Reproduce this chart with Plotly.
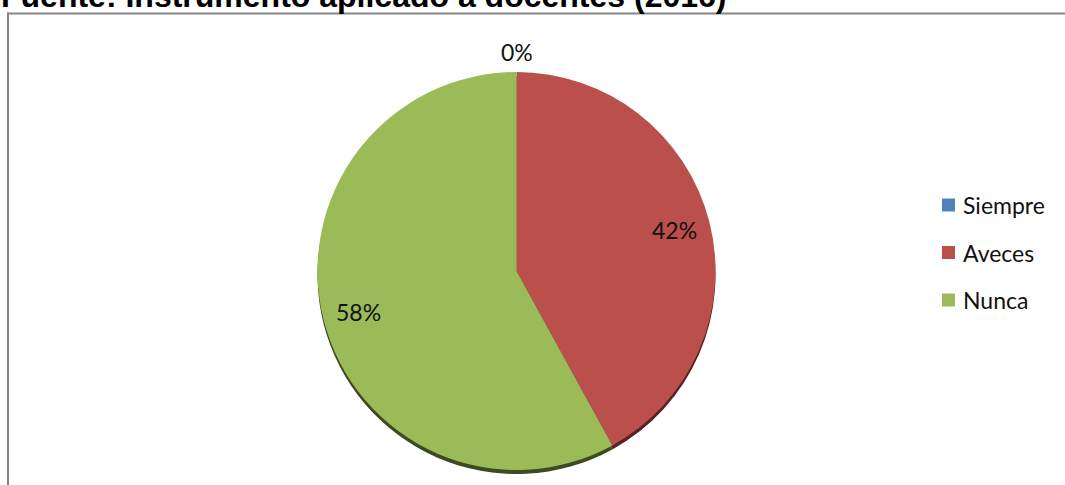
import math
import plotly.graph_objects as go

# ---- data ----
labels = ["Siempre", "Aveces", "Nunca"]
values = [0, 42, 58]
colors = ["#4f81bd", "#bb4f4c", "#9bbb59"]
shadow_colors = ["#27405e", "#5a2222", "#3e4a22"]
title_text = "Fuente: Instrumento aplicado a docentes (2016)"

W, H = 1065, 485
cx, cy, R = 516.5, 271.0, 199.0
shadow_dy = 4.0


def px(x):
    return x / W


def py(y):
    return 1 - y / H


fig = go.Figure()

# shadow pie (slightly lower)
fig.add_trace(go.Pie(
    labels=labels, values=values, sort=False, direction="clockwise", rotation=0,
    marker=dict(colors=shadow_colors, line=dict(width=0)),
    textinfo="none", hoverinfo="skip", showlegend=False,
    domain=dict(x=[px(cx - R), px(cx + R)], y=[py(cy + R + shadow_dy), py(cy - R + shadow_dy)]),
))

# main pie
fig.add_trace(go.Pie(
    labels=labels, values=values, sort=False, direction="clockwise", rotation=0,
    marker=dict(colors=colors, line=dict(width=0)),
    textinfo="none", showlegend=False,
    domain=dict(x=[px(cx - R), px(cx + R)], y=[py(cy + R), py(cy - R)]),
))

# data labels computed from the values
total = sum(values)
cum = 0.0
annotations = []
for lab, v in zip(labels, values):
    mid = (cum + v / 2) / total * 2 * math.pi
    cum += v
    r = 1.1 * R if v == 0 else 0.82 * R
    lx = cx + r * math.sin(mid)
    ly = cy - r * math.cos(mid)
    annotations.append(dict(
        x=px(lx), y=py(ly), xref="paper", yref="paper", showarrow=False,
        text=f"{round(v / total * 100)}%", font=dict(family="Lato", size=23, color="#111111"),
        xanchor="center", yanchor="middle",
    ))

# manual legend
shapes = []
leg_x, leg_y0, leg_dy, sq = 942.0, 205.0, 47.5, 13.0
for i, (lab, col) in enumerate(zip(labels, colors)):
    yc = leg_y0 + i * leg_dy
    shapes.append(dict(type="rect", xref="paper", yref="paper",
                       x0=px(leg_x), x1=px(leg_x + sq), y0=py(yc + sq / 2), y1=py(yc - sq / 2),
                       fillcolor=col, line=dict(width=0)))
    annotations.append(dict(
        x=px(leg_x + sq + 6), y=py(yc), xref="paper", yref="paper", showarrow=False,
        text=lab, font=dict(family="Lato", size=23, color="#111111"),
        xanchor="left", yanchor="middle",
    ))

# chart border: top and left edges (the rest lies outside the picture)
shapes.append(dict(type="line", xref="paper", yref="paper",
                   x0=px(7), x1=1.02, y0=py(13.5), y1=py(13.5),
                   line=dict(color="#868686", width=2)))
shapes.append(dict(type="line", xref="paper", yref="paper",
                   x0=px(8), x1=px(8), y0=py(12.5), y1=-0.02,
                   line=dict(color="#868686", width=2)))

# clipped title at top
annotations.append(dict(
    x=px(-1), y=py(16), xref="paper", yref="paper", showarrow=False,
    text=f"<b>{title_text}</b>", font=dict(family="Liberation Sans", size=32, color="#000000"),
    xanchor="left", yanchor="bottom",
))

fig.update_layout(
    width=W, height=H, margin=dict(l=0, r=0, t=0, b=0),
    paper_bgcolor="white", plot_bgcolor="white",
    shapes=shapes, annotations=annotations,
)

fig.write_html(
    "out.html",
    config={"displayModeBar": False},
    post_script="document.body.style.margin='0';document.body.style.padding='0';document.body.style.overflow='hidden';",
)
